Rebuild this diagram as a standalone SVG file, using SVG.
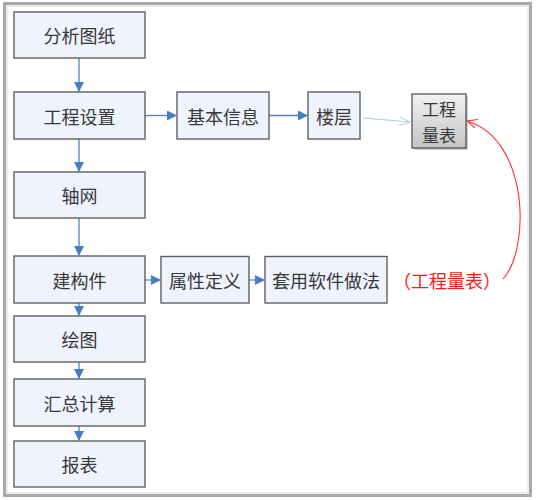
<svg xmlns="http://www.w3.org/2000/svg" width="536" height="500" viewBox="0 0 536 500">
<defs>
<style>
.box{fill:#eef3fd;stroke:#5f5f5f;stroke-width:1.4}
.t{font-family:"Noto Sans CJK SC","Noto Sans",sans-serif;font-size:18px;fill:#383838;text-anchor:middle;dominant-baseline:central}
.c{stroke:#4f81c4;stroke-width:1.3;fill:none}
</style>
<marker id="ah" markerWidth="10" markerHeight="10" refX="9" refY="5" orient="auto" markerUnits="userSpaceOnUse">
<path d="M0,0 L10,5 L0,10 Z" fill="#4a7cc6"/>
</marker>
<marker id="oh" markerWidth="12" markerHeight="10" refX="11" refY="5" orient="auto" markerUnits="userSpaceOnUse">
<path d="M0,0.5 L11,5 L0,9.5" fill="none" stroke="#a8cfe0" stroke-width="1"/>
</marker>
<marker id="rh" markerWidth="12" markerHeight="10" refX="10" refY="5" orient="auto" markerUnits="userSpaceOnUse">
<path d="M0,0.5 L10,5 L0,9.5" fill="none" stroke="#ff3030" stroke-width="1.1"/>
</marker>
<linearGradient id="gg" x1="0" y1="0" x2="0" y2="1">
<stop offset="0" stop-color="#f2f2f2"/>
<stop offset="1" stop-color="#c4c4c4"/>
</linearGradient>
</defs>
<rect x="0" y="0" width="536" height="500" fill="#fff"/>
<rect x="4.5" y="3.5" width="526" height="492" fill="none" stroke="#a9a9a9" stroke-width="3"/>
<rect x="7" y="6" width="521" height="487" fill="none" stroke="#dcdcdc" stroke-width="1"/>

<g id="connectors">
<line class="c" x1="79" y1="58" x2="79" y2="91" marker-end="url(#ah)"/>
<line class="c" x1="145" y1="115.5" x2="176" y2="115.5" marker-end="url(#ah)"/>
<line class="c" x1="269" y1="115.5" x2="307" y2="115.5" marker-end="url(#ah)"/>
<line x1="363" y1="118" x2="410" y2="122" stroke="#a8cfe0" stroke-width="1" marker-end="url(#oh)"/>
<line class="c" x1="79" y1="139" x2="79" y2="171" marker-end="url(#ah)"/>
<line class="c" x1="79" y1="218" x2="79" y2="255" marker-end="url(#ah)"/>
<line class="c" x1="145" y1="280" x2="160" y2="280" marker-end="url(#ah)"/>
<line class="c" x1="249" y1="280" x2="264" y2="280" marker-end="url(#ah)"/>
<line class="c" x1="79" y1="303" x2="79" y2="315" marker-end="url(#ah)"/>
<line class="c" x1="79" y1="362" x2="79" y2="378" marker-end="url(#ah)"/>
<line class="c" x1="79" y1="426" x2="79" y2="440" marker-end="url(#ah)"/>
<path d="M503,279 C530,250 530,140 467,121" fill="none" stroke="#ff3030" stroke-width="1.1" marker-end="url(#rh)"/>
</g>

<g id="n1"><rect class="box" x="14" y="12" width="131" height="46"/><text class="t" x="79.5" y="35">分析图纸</text></g>
<g id="n2"><rect class="box" x="14" y="92" width="131" height="47"/><text class="t" x="79.5" y="115.5">工程设置</text></g>
<g id="n3"><rect class="box" x="177" y="92" width="92" height="47"/><text class="t" x="223" y="115.5">基本信息</text></g>
<g id="n4"><rect class="box" x="308" y="92" width="52" height="47"/><text class="t" x="334" y="115.5">楼层</text></g>
<g id="n5"><rect x="414" y="96" width="54" height="54" fill="#9a9a9a" opacity="0.5"/><rect x="412" y="94" width="54" height="54" fill="url(#gg)" stroke="#4a4a4a" stroke-width="1.2"/><text class="t" x="439" y="108.5" style="font-size:17px">工程</text><text class="t" x="439" y="134" style="font-size:17px">量表</text></g>
<g id="n6"><rect class="box" x="14" y="172" width="131" height="46"/><text class="t" x="79.5" y="195">轴网</text></g>
<g id="n7"><rect class="box" x="14" y="256" width="131" height="47"/><text class="t" x="79.5" y="279.5">建构件</text></g>
<g id="n8"><rect class="box" x="161" y="256.5" width="88" height="46.5"/><text class="t" x="205" y="279.5">属性定义</text></g>
<g id="n9"><rect class="box" x="265" y="256.5" width="122" height="46.5"/><text class="t" x="326" y="279.5">套用软件做法</text></g>
<g id="n10"><text x="447" y="279.5" style="font-family:'Noto Sans CJK SC',sans-serif;font-size:18px;fill:#ff1a1a;text-anchor:middle;dominant-baseline:central">（工程量表）</text></g>
<g id="n11"><rect class="box" x="14" y="316" width="131" height="46"/><text class="t" x="79.5" y="339">绘图</text></g>
<g id="n12"><rect class="box" x="14" y="379" width="131" height="47"/><text class="t" x="79.5" y="402.5">汇总计算</text></g>
<g id="n13"><rect class="box" x="14" y="441" width="131" height="46"/><text class="t" x="79.5" y="464">报表</text></g>
</svg>
